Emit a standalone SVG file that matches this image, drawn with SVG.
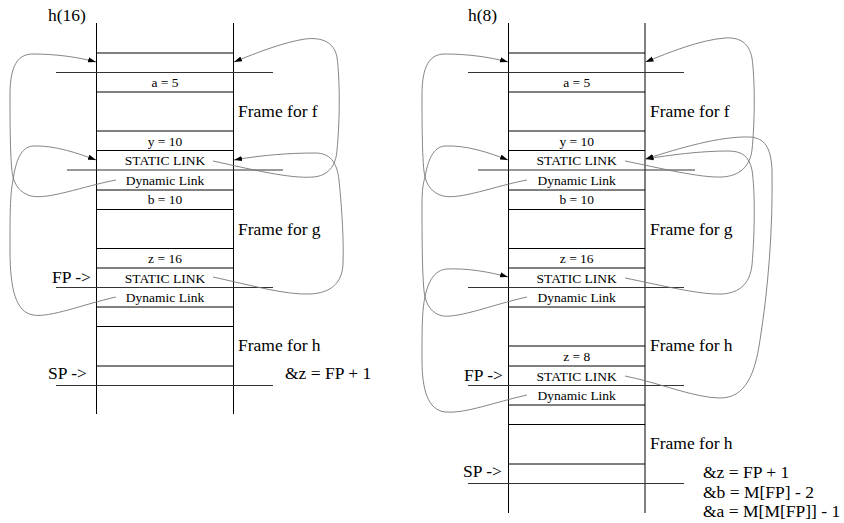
<svg xmlns="http://www.w3.org/2000/svg" width="844" height="523" viewBox="0 0 844 523">
<style>
.s{stroke:#000;stroke-width:1;fill:none}
.l{stroke:#333;stroke-width:1;fill:none}
.c{stroke:#777;stroke-width:0.9;fill:none;marker-end:url(#ah)}
.c2{stroke:#777;stroke-width:0.9;fill:none}
.t{font-family:"Liberation Serif","Times New Roman",serif;font-size:13.5px;text-anchor:middle;fill:#000}
.b{font-family:"Liberation Serif","Times New Roman",serif;font-size:17.5px;fill:#000}
</style>
<defs>
<marker id="ah" markerUnits="userSpaceOnUse" markerWidth="9" markerHeight="6" refX="8" refY="3" orient="auto">
<path d="M0,0.4 L8,3 L0,5.6 z" fill="#000"/>
</marker>
</defs>
<rect width="844" height="523" fill="#fff"/>

<g id="left-stack">
<path class="s" d="M96.5,23 V414 M233.5,23 V414"/>
<path class="s" d="M96.5,53 H233.5 M96.5,92 H233.5 M96.5,131 H233.5 M96.5,150.5 H233.5 M96.5,190 H233.5 M96.5,209.5 H233.5 M96.5,248.5 H233.5 M96.5,268 H233.5 M96.5,307 H233.5 M96.5,326.5 H233.5 M96.5,366 H233.5"/>
<path class="l" d="M56,72.5 H273 M67,170 H283 M56,287.5 H273 M56,385.5 H273"/>
<text class="b" x="48" y="21">h(16)</text>
<text class="t" x="165" y="86.5">a = 5</text>
<text class="t" x="165" y="145.5">y = 10</text>
<text class="t" x="165" y="165">STATIC LINK</text>
<text class="t" x="165" y="184.5">Dynamic Link</text>
<text class="t" x="165" y="204">b = 10</text>
<text class="t" x="165" y="263">z = 16</text>
<text class="t" x="165" y="282.5">STATIC LINK</text>
<text class="t" x="165" y="302">Dynamic Link</text>
<text class="b" x="238" y="117">Frame for f</text>
<text class="b" x="238" y="235">Frame for g</text>
<text class="b" x="238" y="351">Frame for h</text>
<text class="b" x="52" y="283">FP -&gt;</text>
<text class="b" x="48" y="379">SP -&gt;</text>
<text class="b" x="285" y="379">&amp;z = FP + 1</text>
</g>

<g id="right-stack">
<path class="s" d="M508.5,23 V513 M645,23 V513"/>
<path class="s" d="M508.5,53 H645 M508.5,92 H645 M508.5,131 H645 M508.5,150.5 H645 M508.5,190 H645 M508.5,209.5 H645 M508.5,248.5 H645 M508.5,268 H645 M508.5,307 H645 M508.5,346 H645 M508.5,366 H645 M508.5,405 H645 M508.5,424.5 H645 M508.5,464 H645"/>
<path class="l" d="M468,72.5 H684 M478,170 H695 M468,287.5 H684 M468,385.5 H684 M468,483.5 H684"/>
<text class="b" x="468" y="21">h(8)</text>
<text class="t" x="576.7" y="86.5">a = 5</text>
<text class="t" x="576.7" y="145.5">y = 10</text>
<text class="t" x="576.7" y="165">STATIC LINK</text>
<text class="t" x="576.7" y="184.5">Dynamic Link</text>
<text class="t" x="576.7" y="204">b = 10</text>
<text class="t" x="576.7" y="263">z = 16</text>
<text class="t" x="576.7" y="282.5">STATIC LINK</text>
<text class="t" x="576.7" y="302">Dynamic Link</text>
<text class="t" x="576.7" y="361">z = 8</text>
<text class="t" x="576.7" y="380.5">STATIC LINK</text>
<text class="t" x="576.7" y="400">Dynamic Link</text>
<text class="b" x="650" y="117">Frame for f</text>
<text class="b" x="650" y="235">Frame for g</text>
<text class="b" x="650" y="351">Frame for h</text>
<text class="b" x="650" y="449">Frame for h</text>
<text class="b" x="464" y="381">FP -&gt;</text>
<text class="b" x="463" y="477">SP -&gt;</text>
<text class="b" x="703" y="478">&amp;z = FP + 1</text>
<text class="b" x="703" y="498">&amp;b = M[FP] - 2</text>
<text class="b" x="703" y="517">&amp;a = M[M[FP]] - 1</text>
</g>

<g id="connectors">
<path class="c" d="M116,180 C84,186 48,200 31,196 C20,193 15,185 13,177 C10,165 10,120 10,95 C10,65 18,54 33,54 C55,54 78,57 96,62"/>
<path class="c" d="M116,297 C84,304 50,318 33,315 C16,312 10,290 10,250 C10,215 10,195 13,180 C16,160 21,147 33,146 C55,145 80,154 96,160"/>
<path class="c" d="M213,161 C250,169 290,179 313,177 C328,176 336,166 337,150 C340,120 340,80 337,57 C334,42 322,37 305,39 C285,42 258,52 234,62"/>
<path class="c" d="M213,277 C250,285 285,295 310,294 C330,293 342,284 343,264 C344,235 341,200 339,180 C337,162 330,153 315,153 C290,153 262,155 234,160"/>
<path class="c" d="M527,180 C495,186 460,200 443,196 C432,193 427,185 425,177 C422,165 422,120 422,95 C422,65 430,54 445,54 C467,54 490,57 508,62"/>
<path class="c" d="M527,297 C495,304 460,318 443,316 C432,314 427,305 425,297 C422,285 422,230 422,205 C422,190 423,184 425,177 C428,160 433,147 445,146 C467,145 490,153 508,160"/>
<path class="c" d="M527,395 C495,402 465,414 445,412 C428,410 422,390 422,360 C422,330 422,310 425,297 C428,282 434,270 447,269 C467,268 490,272 508,277"/>
<path class="c" d="M625,161 C660,168 700,178 722,177 C740,176 750,166 752,150 C755,120 755,80 752,58 C749,43 740,37 725,38 C700,40 670,52 645.5,62"/>
<path class="c" d="M625,278 C660,285 700,295 722,294 C740,293 750,283 752,265 C755,230 755,190 752,170 C749,156 742,151 728,151 C700,151 670,155 645.5,159"/>
<path class="c" d="M625,376 C660,383 695,398 720,398 C745,398 755,375 760,340 C768,290 773,230 772,170 C771,148 765,138 750,137 C720,136 680,148 645.5,159"/>
</g>
</svg>
